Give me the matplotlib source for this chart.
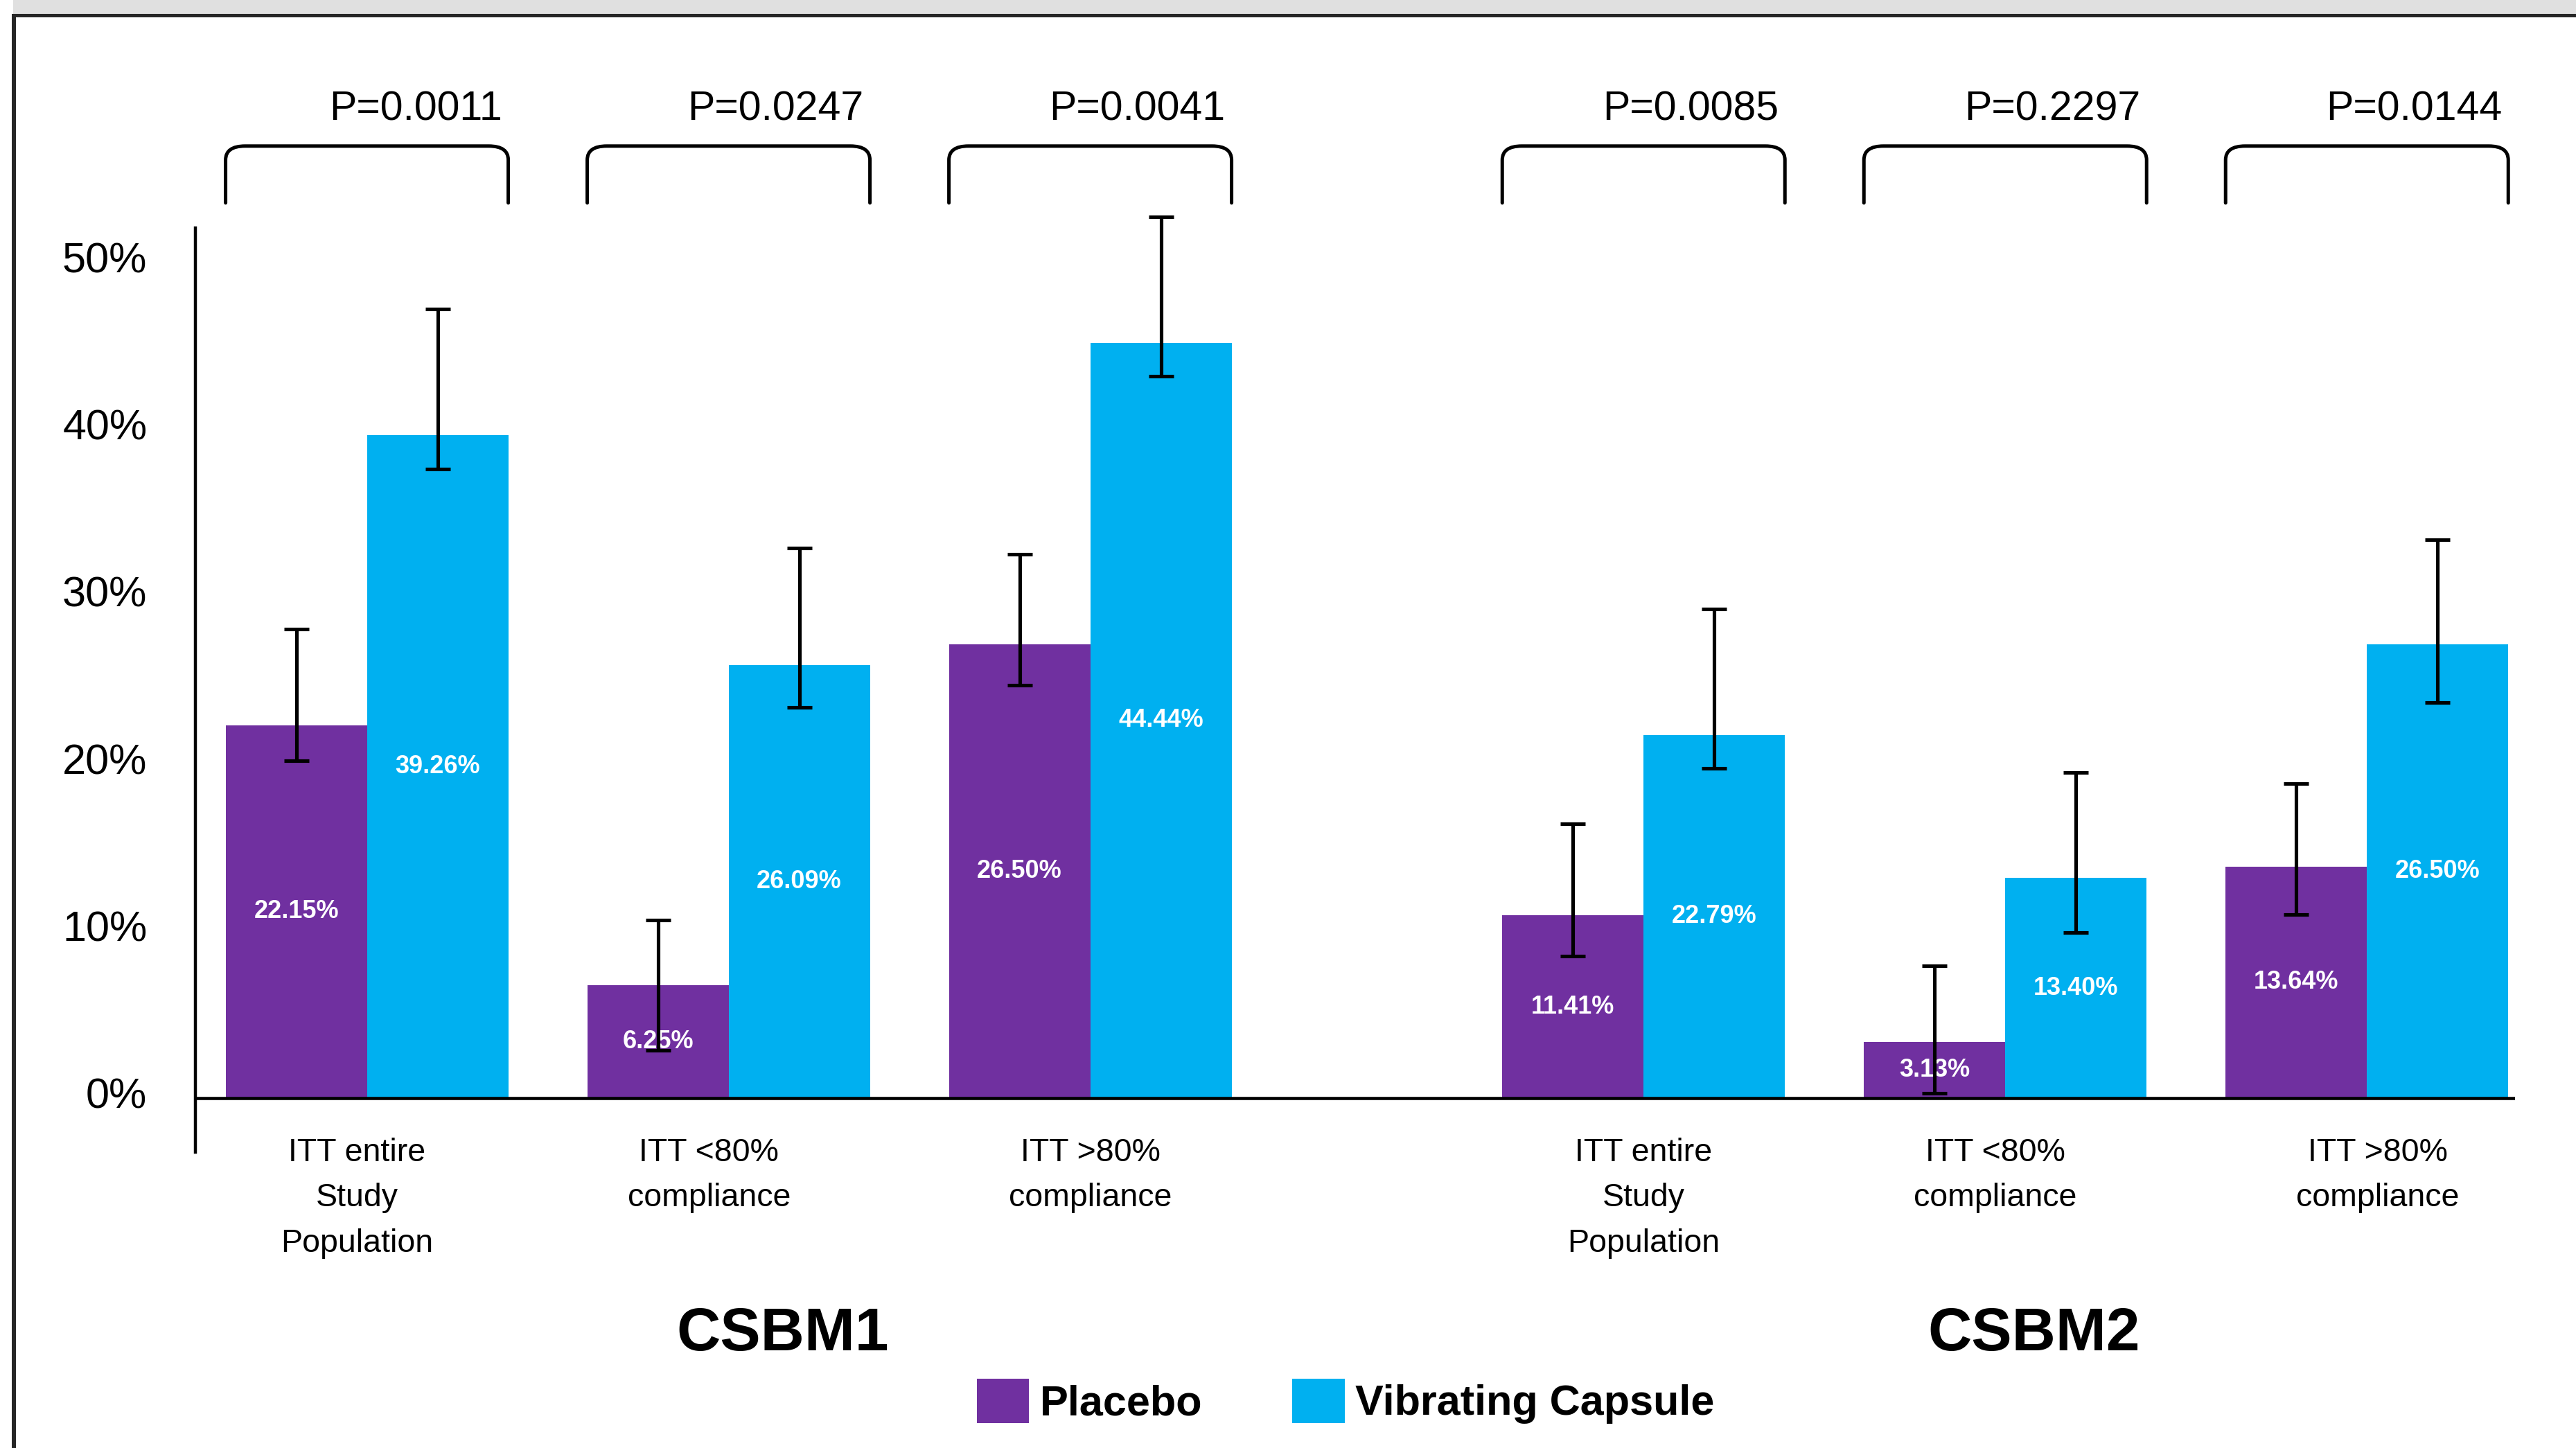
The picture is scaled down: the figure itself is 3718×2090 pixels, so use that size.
import matplotlib
matplotlib.use('Agg')
import matplotlib.pyplot as plt
import numpy as np
from matplotlib.patches import Rectangle, PathPatch
from matplotlib.path import Path
from matplotlib.transforms import ScaledTranslation

plt.rcParams['font.family'] = ['Liberation Sans', 'DejaVu Sans']

# ---------------- data ----------------
categories = ['ITT entire\nStudy\nPopulation', 'ITT <80%\ncompliance', 'ITT >80%\ncompliance',
              'ITT entire\nStudy\nPopulation', 'ITT <80%\ncompliance', 'ITT >80%\ncompliance']
endpoints = ['CSBM1', 'CSBM2']
series = ['Placebo', 'Vibrating Capsule']
placebo = [22.30, 6.74, 27.12, 10.92, 3.37, 13.84]
capsule = [39.66, 25.90, 45.17, 21.72, 13.17, 27.12]
placebo_labels = ['22.15%', '6.25%', '26.50%', '11.41%', '3.13%', '13.64%']
capsule_labels = ['39.26%', '26.09%', '44.44%', '22.79%', '13.40%', '26.50%']
placebo_ci_low = [20.17, 2.86, 24.68, 8.51, 0.30, 10.96]
placebo_ci_high = [28.04, 10.66, 32.52, 16.39, 7.92, 18.79]
capsule_ci_low = [37.62, 23.38, 43.17, 19.72, 9.92, 23.64]
capsule_ci_high = [47.20, 32.89, 52.71, 29.26, 19.46, 33.41]
p_values = ['P=0.0011', 'P=0.0247', 'P=0.0041', 'P=0.0085', 'P=0.2297', 'P=0.0144']
y_ticks = [0, 10, 20, 30, 40, 50]

# ---------------- style / layout ----------------
PURPLE = '#7030A0'
CYAN = '#00B0F0'
W, H = 3718, 2090
label_dx = [-0.028, -0.054, 0.0, 0.0, -0.028, 0.030]   # category label nudges

fig = plt.figure(figsize=(W / 100, H / 100), dpi=100)
fig.patch.set_facecolor('white')


def frame_rect(x0, y0, x1, y1, color):
    fig.add_artist(Rectangle((x0 / W, 1 - y1 / H), (x1 - x0) / W, (y1 - y0) / H,
                             transform=fig.transFigure, facecolor=color,
                             edgecolor='none', lw=0, zorder=0))


# slide frame (screenshot border)
frame_rect(19, 0, W, 20, '#e0e0e0')
frame_rect(17, 20, W, 25, '#262626')
frame_rect(17, 20, 23, H, '#262626')

ax = fig.add_axes([281.7 / W, 1 - 1663.4 / H, (3630 - 281.7) / W, (1663.4 - 328.6) / H])
ax.set_facecolor('none')

gap = 0.53
x = np.array([i + (gap if i >= 3 else 0) for i in range(len(placebo))])
bw = 0.3908

ax.set_xlim(-0.4749, 5.9395)
ax.set_ylim(-3.25, 52.05)

for s in ['top', 'right', 'bottom']:
    ax.spines[s].set_visible(False)
ax.spines['left'].set_linewidth(3.2)
ax.spines['left'].set_color('black')
ax.set_xticks([])
ax.set_yticks(y_ticks)
ax.set_yticklabels([f'{t}%' for t in y_ticks], fontsize=44)
ax.tick_params(axis='y', length=0, pad=50)
for lab in ax.get_yticklabels():
    lab.set_transform(lab.get_transform() + ScaledTranslation(0, 7 / 100, fig.dpi_scale_trans))
ax.axhline(0, color='black', lw=3.3, zorder=3)

b1 = ax.bar(x - bw / 2, placebo, bw, color=PURPLE, zorder=2, label=series[0])
b2 = ax.bar(x + bw / 2, capsule, bw, color=CYAN, zorder=2, label=series[1])

pl = np.array(placebo)
cp = np.array(capsule)
ax.errorbar(x - bw / 2, pl, yerr=[pl - np.array(placebo_ci_low), np.array(placebo_ci_high) - pl],
            fmt='none', ecolor='black', elinewidth=3.7, capsize=13.3, capthick=3.7,
            zorder=5, clip_on=False)
ax.errorbar(x + bw / 2, cp, yerr=[cp - np.array(capsule_ci_low), np.array(capsule_ci_high) - cp],
            fmt='none', ecolor='black', elinewidth=3.7, capsize=13.3, capthick=3.7,
            zorder=5, clip_on=False)

for xi, h, lab in zip(x - bw / 2, placebo, placebo_labels):
    ax.text(xi, h / 2, lab, ha='center', va='center', color='white', fontsize=26,
            fontweight='bold', zorder=4)
for xi, h, lab in zip(x + bw / 2, capsule, capsule_labels):
    ax.text(xi, h / 2, lab, ha='center', va='center', color='white', fontsize=26,
            fontweight='bold', zorder=4)

# category labels
for xi, dx, cat in zip(x, label_dx, categories):
    ax.text(xi + dx, -2.36, cat, ha='center', va='top', fontsize=33.5, linespacing=1.63,
            clip_on=False)

# endpoint titles
for xe, name in zip([1.15, 4.61], endpoints):
    ax.text(xe, -15.10, name, ha='center', va='baseline', fontsize=63,
            fontweight='bold', clip_on=False)

# p-value brackets
ytop, ybot = 56.93, 53.53
rx, ry = 0.054, 0.83
for xi, p in zip(x, p_values):
    x0, x1 = xi - bw, xi + bw
    verts = [(x0, ybot), (x0, ytop - ry), (x0, ytop), (x0 + rx, ytop),
             (x1 - rx, ytop), (x1, ytop), (x1, ytop - ry), (x1, ybot)]
    codes = [Path.MOVETO, Path.LINETO, Path.CURVE3, Path.CURVE3,
             Path.LINETO, Path.CURVE3, Path.CURVE3, Path.LINETO]
    ax.add_patch(PathPatch(Path(verts, codes), facecolor='none', edgecolor='black',
                           lw=3.6, clip_on=False, capstyle='round', joinstyle='round'))
    ax.text(x1 - 0.017, 58.48, p, ha='right', va='baseline', fontsize=42.5, clip_on=False)

fig.legend(handles=[b1, b2], labels=series, loc='center', bbox_to_anchor=(0.5223, 0.0323),
           ncol=2, frameon=False, prop={'family': 'Liberation Sans', 'weight': 'bold', 'size': 44},
           handlelength=1.24, handleheight=1.24, handletextpad=0.25, columnspacing=2.12,
           borderpad=0, borderaxespad=0)

fig.savefig('out.png', dpi=100, facecolor='white')
